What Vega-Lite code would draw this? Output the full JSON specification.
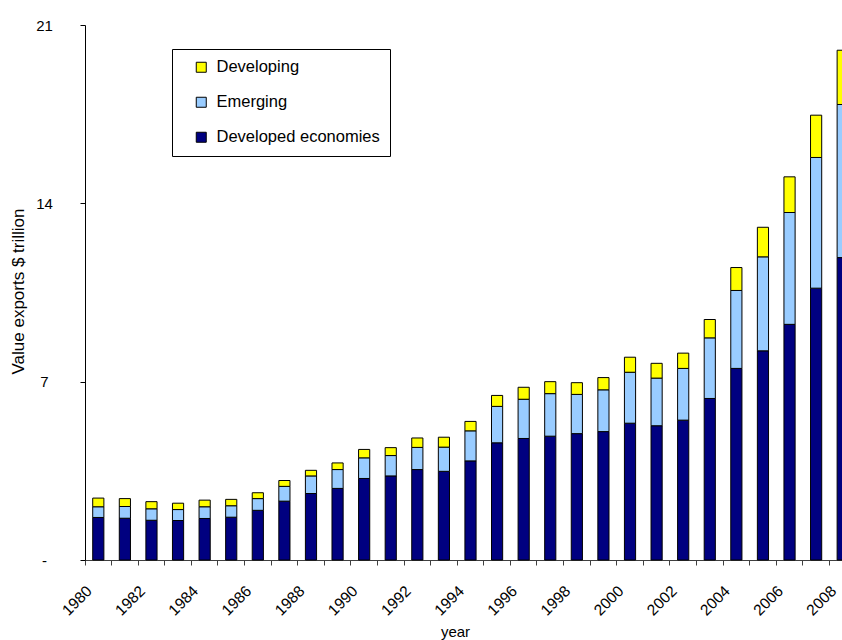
{
  "$schema": "https://vega.github.io/schema/vega-lite/v6.json",
  "autosize": {"type": "none"},
  "width": 771,
  "height": 535,
  "padding": {"left": 85, "top": 25, "right": 0, "bottom": 80},
  "background": "white",
  "config": {
    "view": {"stroke": null},
    "font": "Liberation Sans",
    "axis": {"labelFont": "Liberation Sans", "titleFont": "Liberation Sans", "labelColor": "black", "titleColor": "black", "titleFontWeight": "normal"}
  },
  "datasets": {
    "exports": [
      {"year": "1980", "series": "Developed economies", "value": 1.67}, {"year": "1980", "series": "Emerging", "value": 0.42}, {"year": "1980", "series": "Developing", "value": 0.34},
      {"year": "1981", "series": "Developed economies", "value": 1.64}, {"year": "1981", "series": "Emerging", "value": 0.46}, {"year": "1981", "series": "Developing", "value": 0.31},
      {"year": "1982", "series": "Developed economies", "value": 1.56}, {"year": "1982", "series": "Emerging", "value": 0.45}, {"year": "1982", "series": "Developing", "value": 0.28},
      {"year": "1983", "series": "Developed economies", "value": 1.55}, {"year": "1983", "series": "Emerging", "value": 0.43}, {"year": "1983", "series": "Developing", "value": 0.25},
      {"year": "1984", "series": "Developed economies", "value": 1.63}, {"year": "1984", "series": "Emerging", "value": 0.46}, {"year": "1984", "series": "Developing", "value": 0.26},
      {"year": "1985", "series": "Developed economies", "value": 1.68}, {"year": "1985", "series": "Emerging", "value": 0.45}, {"year": "1985", "series": "Developing", "value": 0.25},
      {"year": "1986", "series": "Developed economies", "value": 1.95}, {"year": "1986", "series": "Emerging", "value": 0.46}, {"year": "1986", "series": "Developing", "value": 0.23},
      {"year": "1987", "series": "Developed economies", "value": 2.31}, {"year": "1987", "series": "Emerging", "value": 0.58}, {"year": "1987", "series": "Developing", "value": 0.23},
      {"year": "1988", "series": "Developed economies", "value": 2.61}, {"year": "1988", "series": "Emerging", "value": 0.69}, {"year": "1988", "series": "Developing", "value": 0.22},
      {"year": "1989", "series": "Developed economies", "value": 2.81}, {"year": "1989", "series": "Emerging", "value": 0.74}, {"year": "1989", "series": "Developing", "value": 0.26},
      {"year": "1990", "series": "Developed economies", "value": 3.20}, {"year": "1990", "series": "Emerging", "value": 0.81}, {"year": "1990", "series": "Developing", "value": 0.33},
      {"year": "1991", "series": "Developed economies", "value": 3.30}, {"year": "1991", "series": "Emerging", "value": 0.80}, {"year": "1991", "series": "Developing", "value": 0.31},
      {"year": "1992", "series": "Developed economies", "value": 3.55}, {"year": "1992", "series": "Emerging", "value": 0.87}, {"year": "1992", "series": "Developing", "value": 0.37},
      {"year": "1993", "series": "Developed economies", "value": 3.48}, {"year": "1993", "series": "Emerging", "value": 0.95}, {"year": "1993", "series": "Developing", "value": 0.39},
      {"year": "1994", "series": "Developed economies", "value": 3.89}, {"year": "1994", "series": "Emerging", "value": 1.18}, {"year": "1994", "series": "Developing", "value": 0.37},
      {"year": "1995", "series": "Developed economies", "value": 4.60}, {"year": "1995", "series": "Emerging", "value": 1.43}, {"year": "1995", "series": "Developing", "value": 0.43},
      {"year": "1996", "series": "Developed economies", "value": 4.77}, {"year": "1996", "series": "Emerging", "value": 1.54}, {"year": "1996", "series": "Developing", "value": 0.47},
      {"year": "1997", "series": "Developed economies", "value": 4.86}, {"year": "1997", "series": "Emerging", "value": 1.67}, {"year": "1997", "series": "Developing", "value": 0.47},
      {"year": "1998", "series": "Developed economies", "value": 4.96}, {"year": "1998", "series": "Emerging", "value": 1.54}, {"year": "1998", "series": "Developing", "value": 0.46},
      {"year": "1999", "series": "Developed economies", "value": 5.04}, {"year": "1999", "series": "Emerging", "value": 1.64}, {"year": "1999", "series": "Developing", "value": 0.48},
      {"year": "2000", "series": "Developed economies", "value": 5.37}, {"year": "2000", "series": "Emerging", "value": 2.00}, {"year": "2000", "series": "Developing", "value": 0.59},
      {"year": "2001", "series": "Developed economies", "value": 5.27}, {"year": "2001", "series": "Emerging", "value": 1.87}, {"year": "2001", "series": "Developing", "value": 0.58},
      {"year": "2002", "series": "Developed economies", "value": 5.49}, {"year": "2002", "series": "Emerging", "value": 2.03}, {"year": "2002", "series": "Developing", "value": 0.60},
      {"year": "2003", "series": "Developed economies", "value": 6.34}, {"year": "2003", "series": "Emerging", "value": 2.38}, {"year": "2003", "series": "Developing", "value": 0.72},
      {"year": "2004", "series": "Developed economies", "value": 7.52}, {"year": "2004", "series": "Emerging", "value": 3.06}, {"year": "2004", "series": "Developing", "value": 0.90},
      {"year": "2005", "series": "Developed economies", "value": 8.21}, {"year": "2005", "series": "Emerging", "value": 3.69}, {"year": "2005", "series": "Developing", "value": 1.16},
      {"year": "2006", "series": "Developed economies", "value": 9.25}, {"year": "2006", "series": "Emerging", "value": 4.39}, {"year": "2006", "series": "Developing", "value": 1.40},
      {"year": "2007", "series": "Developed economies", "value": 10.67}, {"year": "2007", "series": "Emerging", "value": 5.13}, {"year": "2007", "series": "Developing", "value": 1.66},
      {"year": "2008", "series": "Developed economies", "value": 11.87}, {"year": "2008", "series": "Emerging", "value": 6.01}, {"year": "2008", "series": "Developing", "value": 2.13}
    ]
  },
  "layer": [
    {
      "mark": {"type": "rule", "color": "#a0a0a0", "strokeWidth": 1.5},
      "encoding": {"y": {"datum": 21, "type": "quantitative"}}
    },
    {
      "data": {"name": "exports"},
      "transform": [
        {"calculate": "indexof(['Developed economies','Emerging','Developing'], datum.series)", "as": "stackOrder"}
      ],
      "mark": {"type": "bar", "stroke": "black", "strokeWidth": 1, "width": {"band": 0.42}},
      "encoding": {
        "x": {
          "field": "year", "type": "ordinal",
          "scale": {"paddingInner": 0, "paddingOuter": 0},
          "axis": {
            "title": "year",
            "bandPosition": 0,
            "labelAngle": -45,
            "labelAlign": "right",
            "labelBaseline": "middle",
            "labelOffset": -9,
            "labelPadding": 23,
            "labelExpr": "toNumber(datum.value) % 2 == 0 ? datum.value : ''",
            "labelFontSize": 15.5,
            "labelOverlap": false,
            "tickSize": 5,
            "tickColor": "#404040",
            "domainColor": "#404040",
            "titleFontSize": 15,
            "titleX": 370,
            "titleY": 76,
            "titleBaseline": "alphabetic"
          }
        },
        "y": {
          "field": "value", "type": "quantitative", "stack": "zero",
          "scale": {"domain": [0, 21], "nice": false},
          "axis": {
            "title": "Value exports $ trillion",
            "values": [0, 7, 14, 21],
            "labelExpr": "datum.value == 0 ? '-' : datum.label",
            "grid": false,
            "domainColor": "black",
            "tickColor": "black",
            "tickSize": 5,
            "labelAlign": "center",
            "labelPadding": 36,
            "labelFontSize": 15,
            "titleFontSize": 17,
            "titleAngle": -90,
            "titleX": -67,
            "titleY": 266,
            "titleAlign": "center",
            "titleBaseline": "middle"
          }
        },
        "color": {
          "field": "series", "type": "nominal",
          "scale": {"domain": ["Developing", "Emerging", "Developed economies"], "range": ["#FFFF00", "#99CCFF", "#000080"]},
          "legend": {
            "title": null,
            "orient": "none",
            "legendX": 87,
            "legendY": 24,
            "strokeColor": "black",
            "fillColor": "white",
            "padding": 10,
            "symbolType": "square",
            "symbolSize": 100,
            "symbolStrokeColor": "black",
            "symbolStrokeWidth": 1,
            "symbolOffset": 11,
            "labelOffset": 7,
            "labelFontSize": 16.5,
            "labelFont": "Liberation Sans",
            "labelColor": "black",
            "labelLimit": 300,
            "rowPadding": 18
          }
        },
        "order": {"field": "stackOrder", "type": "quantitative"}
      }
    }
  ]
}
